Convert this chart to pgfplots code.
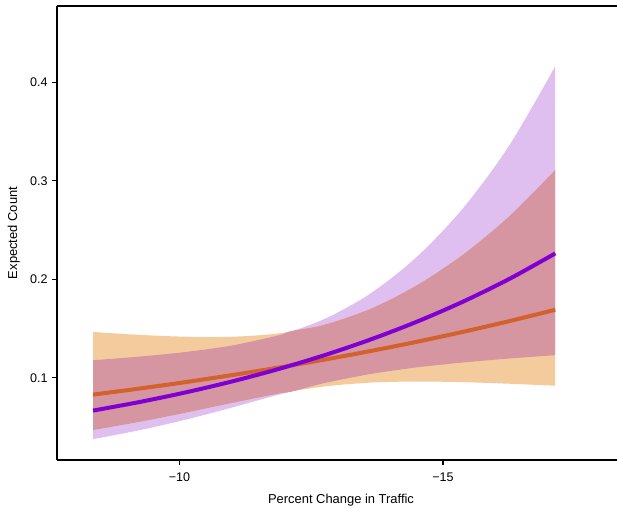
\documentclass[border=0pt]{standalone}
\usepackage{pgfplots}
\usepackage{pgfplotstable}
\pgfplotsset{compat=1.18}
\usepgfplotslibrary{fillbetween}
\usepackage{fontspec}
\setmainfont{Liberation Sans}
\definecolor{obandc}{HTML}{F4CB9C}
\definecolor{pbandc}{HTML}{DFBFF0}
\definecolor{ovc}{HTML}{D596A2}
\definecolor{olinec}{HTML}{D2612C}
\definecolor{plinec}{HTML}{7F00D3}

\pgfplotstableread{
x mid lo hi
-8.360 0.0666 0.03767 0.11776
-9.237 0.07526 0.04666 0.12141
-10.114 0.08505 0.05736 0.1261
-10.991 0.09612 0.06963 0.13265
-11.868 0.10861 0.0826 0.14283
-12.745 0.12273 0.09447 0.15945
-13.622 0.1387 0.10373 0.18545
-14.499 0.15673 0.11041 0.22246
-15.376 0.1771 0.11542 0.27177
-16.253 0.20013 0.11944 0.33536
-17.130 0.22616 0.12292 0.41615
}\purpletab

\pgfplotstableread{
x mid lo hi
-8.360 0.08283 0.04685 0.14644
-9.237 0.08895 0.05514 0.14349
-10.114 0.09552 0.06443 0.14162
-10.991 0.10259 0.07433 0.14158
-11.868 0.11017 0.08378 0.14487
-12.745 0.11832 0.09107 0.15369
-13.622 0.12705 0.09502 0.16988
-14.499 0.1364 0.09612 0.19368
-15.376 0.14652 0.09548 0.22483
-16.253 0.15735 0.0939 0.26365
-17.130 0.16899 0.09183 0.31093
}\orangetab

\pgfplotstableread{
x lo hi
-8.360 0.04685 0.11776
-9.237 0.05514 0.12141
-10.114 0.06443 0.1261
-10.991 0.07433 0.13265
-11.868 0.08378 0.14283
-12.114 0.08576 0.14729
-12.745 0.09447 0.15369
-13.622 0.10373 0.16988
-14.499 0.11041 0.19368
-15.376 0.11542 0.22483
-16.253 0.11944 0.26365
-17.130 0.12292 0.31093
}\overlaptab

\begin{document}
\begin{tikzpicture}
\begin{axis}[
  at={(0,0)}, anchor=south west,
  scale only axis, width=426pt, height=340.5pt,
  x dir=reverse,
  xmin=-18.454, xmax=-7.676,
  ymin=0.01645, ymax=0.4774,
  axis x line*=bottom, axis y line*=left,
  axis line style={-, line width=1.1pt, black},
  clip=false,
  xtick={-10,-15}, xticklabels={−10,−15},
  ytick={0.1,0.2,0.3,0.4}, yticklabels={0.1,0.2,0.3,0.4},
  tick align=outside,
  major tick length=3.5pt,
  tick style={black, line width=0.9pt},
  ticklabel style={font=\fontsize{9.4}{11}\selectfont, text=black},
  xticklabel style={yshift=-2.5pt},
  xlabel={Percent Change in Traffic},
  ylabel={Expected Count},
  label style={font=\fontsize{9.7}{11}\selectfont},
  xlabel style={yshift=-2.5pt},
  ylabel style={yshift=1pt},
]
\addplot[draw=none, smooth, name path=pu] table[x=x,y=hi]{\purpletab};
\addplot[draw=none, smooth, name path=pl] table[x=x,y=lo]{\purpletab};
\addplot[pbandc] fill between[of=pu and pl];
\addplot[draw=none, smooth, name path=ou] table[x=x,y=hi]{\orangetab};
\addplot[draw=none, smooth, name path=ol] table[x=x,y=lo]{\orangetab};
\addplot[obandc] fill between[of=ou and ol];
\addplot[draw=none, smooth, name path=vu] table[x=x,y=hi]{\overlaptab};
\addplot[draw=none, smooth, name path=vl] table[x=x,y=lo]{\overlaptab};
\addplot[ovc] fill between[of=vu and vl];
\addplot[olinec, smooth, line width=3pt] table[x=x,y=mid]{\orangetab};
\addplot[plinec, smooth, line width=3pt] table[x=x,y=mid]{\purpletab};
\draw[line width=1.1pt, black] (rel axis cs:0,1) -- (rel axis cs:1,1);
\end{axis}
\pgfresetboundingbox
\path (-42.75pt,-36.75pt) rectangle (420pt,345pt);
\end{tikzpicture}
\end{document}
